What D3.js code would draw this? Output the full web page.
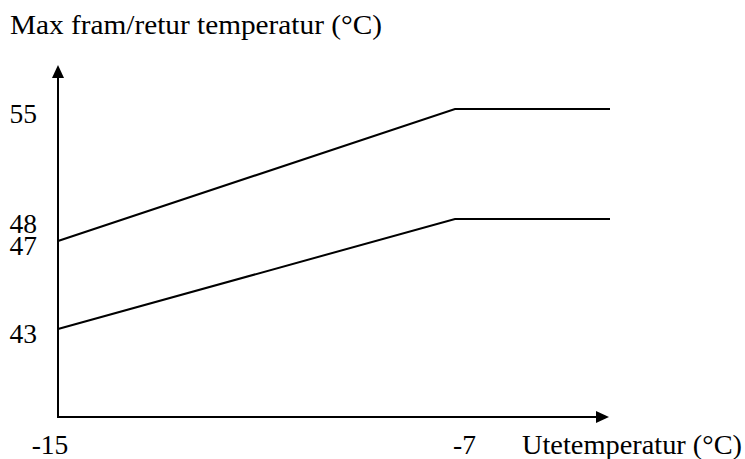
<!DOCTYPE html>
<html>
<head>
<meta charset="utf-8">
<script src="https://cdn.jsdelivr.net/npm/d3@7"></script>
<style>
  html, body { margin: 0; padding: 0; background: #fff; }
  text { font-family: "Liberation Serif", "Times New Roman", serif; fill: #000; }
</style>
</head>
<body>
<svg id="chart" width="745" height="459"></svg>
<script>
// ---- data ----
const xValues = [-15, -7, -4];          // outdoor temperature breakpoints
const supplyTemps = [47, 55, 55];       // upper curve (max supply)
const returnTemps = [43, 48, 48];       // lower curve (max return)
const xTickLabels = [-15, -7];
const yTickLabels = [55, 48, 47, 43];
const yTitle = "Max fram/retur temperatur (°C)";
const xTitle = "Utetemperatur (°C)";

// ---- scales (schematic, piecewise linear) ----
const x = d3.scaleLinear().domain([-15, -7, -4]).range([58, 455, 610]);
const y = d3.scaleLinear().domain([43, 47, 48, 55]).range([329, 241, 219, 109]);

const svg = d3.select("#chart");
const fs = 27.5;

// axes
const axisY = 417, axisX = x(-15);
svg.append("line").attr("x1", axisX).attr("y1", axisY).attr("x2", axisX).attr("y2", 76)
  .attr("stroke", "#000").attr("stroke-width", 2);
svg.append("path").attr("d", `M${axisX},65 L${axisX-6},78 L${axisX+6},78 Z`).attr("fill", "#000");
svg.append("line").attr("x1", axisX - 1).attr("y1", axisY).attr("x2", 598).attr("y2", axisY)
  .attr("stroke", "#000").attr("stroke-width", 2);
svg.append("path").attr("d", `M609,${axisY} L596,${axisY-6} L596,${axisY+6} Z`).attr("fill", "#000");

// data lines
const line = d3.line().x((d, i) => x(xValues[i])).y(d => y(d));
[supplyTemps, returnTemps].forEach(s => {
  svg.append("path").datum(s).attr("d", line)
    .attr("fill", "none").attr("stroke", "#000").attr("stroke-width", 2);
});

// y tick labels
svg.selectAll("text.ytick").data(yTickLabels).enter().append("text")
  .attr("class", "ytick").attr("x", 37).attr("y", d => y(d) + 14)
  .attr("text-anchor", "end").attr("font-size", fs).text(d => d);

// x tick labels
svg.append("text").attr("x", x(-15) - 8).attr("y", 454).attr("text-anchor", "middle")
  .attr("font-size", fs).text(xTickLabels[0]);
svg.append("text").attr("x", x(-7) - 2).attr("y", 454).attr("text-anchor", "start")
  .attr("font-size", fs).text(xTickLabels[1]);

// titles
svg.append("text").attr("x", 10).attr("y", 34).attr("font-size", fs)
  .attr("textLength", 372).attr("lengthAdjust", "spacingAndGlyphs").text(yTitle);
svg.append("text").attr("x", 522).attr("y", 454).attr("font-size", fs)
  .attr("textLength", 220).attr("lengthAdjust", "spacingAndGlyphs").text(xTitle);
</script>
</body>
</html>
